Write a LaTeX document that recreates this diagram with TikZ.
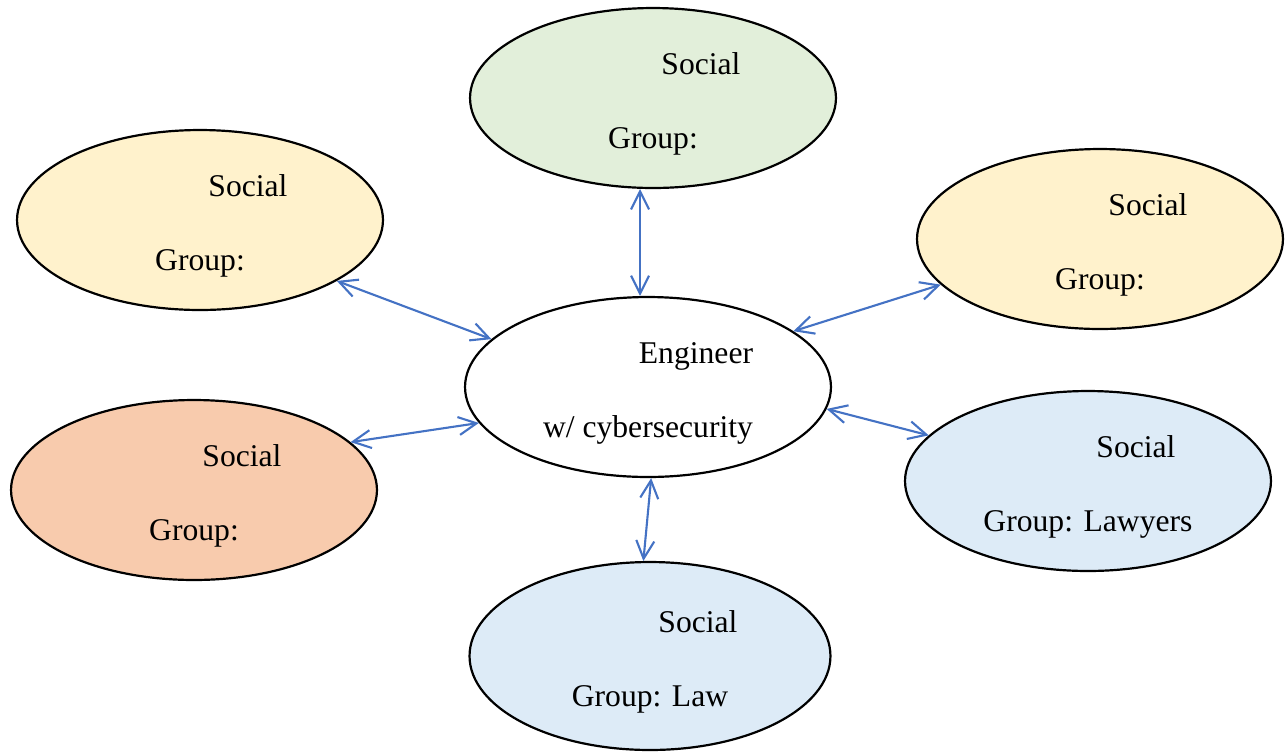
\documentclass[tikz,border=0pt]{standalone}
\usepackage{fontspec}
\setmainfont{Liberation Serif}
\usepackage{xcolor}
\usetikzlibrary{arrows.meta, shapes.geometric, calc}
\definecolor{greenfill}{HTML}{E2EFDA}
\definecolor{yellowfill}{HTML}{FFF2CC}
\definecolor{orangefill}{HTML}{F8CBAD}
\definecolor{bluefill}{HTML}{DDEBF7}
\definecolor{linkblue}{HTML}{4472C4}

\begin{document}
\begin{tikzpicture}[
    x=0.02cm, y=-0.02cm,
    groupnode/.style={
      ellipse, draw=black, line width=1.25pt,
      minimum width=7.32cm, minimum height=3.6cm,
      inner sep=0pt, align=center,
      font=\fontsize{18}{42}\selectfont,
    },
    linkarrow/.style={{Straight Barb[length=3.6mm,width=3.6mm]}-{Straight Barb[length=3.6mm,width=3.6mm]},
                      line width=1.2pt, color=linkblue},
  ]
  \useasboundingbox (0,0) rectangle (1286,752);

  % -----------------------------------------------------------
  % Centre: the engineer
  % -----------------------------------------------------------
  \node[groupnode, fill=white] (eng) at (648,387)
        {\rule{0pt}{19pt}\hspace*{1.92cm}Engineer\\w/ cybersecurity};

  % -----------------------------------------------------------
  % Social groups around it
  % -----------------------------------------------------------
  \node[groupnode, fill=greenfill]  (grptop)   at (653,98)
        {\rule{0pt}{19pt}\hspace*{1.92cm}Social\\Group:};
  \node[groupnode, fill=yellowfill] (grpleft)  at (200,220)
        {\rule{0pt}{19pt}\hspace*{1.92cm}Social\\Group:};
  \node[groupnode, fill=yellowfill] (grpright) at (1100,239)
        {\rule{0pt}{19pt}\hspace*{1.92cm}Social\\Group:};
  \node[groupnode, fill=orangefill] (grporange) at (194,490)
        {\rule{0pt}{19pt}\hspace*{1.92cm}Social\\Group:};
  \node[groupnode, fill=bluefill]   (grplawyer) at (1088,481)
        {\rule{0pt}{19pt}\hspace*{1.92cm}Social\\Group: Lawyers};
  \node[groupnode, fill=bluefill, minimum width=7.22cm, minimum height=3.76cm]
                                    (grplaw)   at (650,656)
        {\rule{0pt}{19pt}\hspace*{1.92cm}Social\\Group: Law};

  % -----------------------------------------------------------
  % Two-way links
  % -----------------------------------------------------------
  \draw[linkarrow] (grptop.south -| eng.95) -- (eng.95);
  \draw[linkarrow] (grpleft.-24)   -- (eng.163);
  \draw[linkarrow] (grpright.-164) -- (eng.21);
  \draw[linkarrow] (grporange.17)  -- (eng.-168);
  \draw[linkarrow] (grplawyer.164) -- (eng.-7);
  \draw[linkarrow] (eng.-88)       -- (grplaw.94);

\end{tikzpicture}
\end{document}
